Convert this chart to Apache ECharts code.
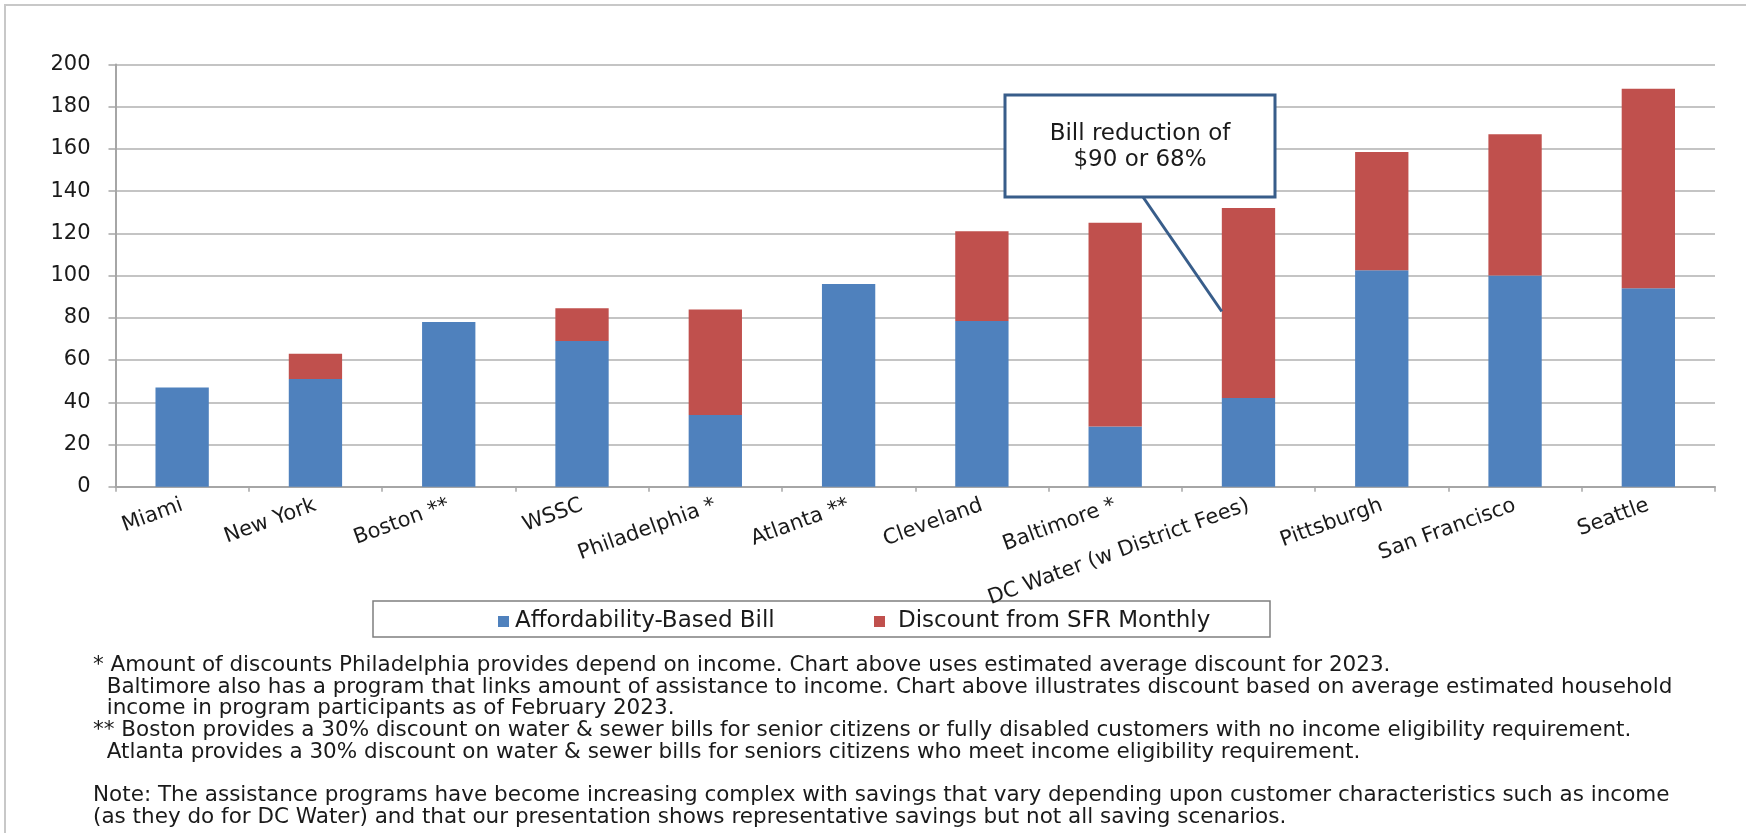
<!DOCTYPE html>
<html>
<head>
<meta charset="utf-8">
<script src="https://cdn.jsdelivr.net/npm/echarts@6/dist/echarts.min.js"></script>
<style>
  html, body { margin: 0; padding: 0; background: #ffffff; }
  #chart { width: 1746px; height: 833px; }
</style>
</head>
<body>
<div id="chart"></div>
<script>
// ---- data ----
const categories = ['Miami', 'New York', 'Boston **', 'WSSC', 'Philadelphia *', 'Atlanta **', 'Cleveland', 'Baltimore *', 'DC Water (w District Fees)', 'Pittsburgh', 'San Francisco', 'Seattle'];
const affordabilityBill = [47, 51, 78, 69, 34, 96, 78.5, 28.5, 42, 102.5, 100, 94];
const sfrDiscount = [0, 12, 0, 15.5, 50, 0, 42.5, 96.5, 90, 56, 67, 94.5];
const seriesNames = ['Affordability-Based Bill', 'Discount from SFR Monthly'];
const yTicks = { min: 0, max: 200, interval: 20 };
const calloutLines = ['Bill reduction of', '$90 or 68%'];
const calloutCategory = 'DC Water (w District Fees)';
const calloutValue = 83;
const footnotes = [
  '* Amount of discounts Philadelphia provides depend on income. Chart above uses estimated average discount for 2023.',
  '  Baltimore also has a program that links amount of assistance to income. Chart above illustrates discount based on average estimated household',
  '  income in program participants as of February 2023.',
  '** Boston provides a 30% discount on water & sewer bills for senior citizens or fully disabled customers with no income eligibility requirement.',
  '  Atlanta provides a 30% discount on water & sewer bills for seniors citizens who meet income eligibility requirement.',
  '',
  'Note: The assistance programs have become increasing complex with savings that vary depending upon customer characteristics such as income',
  '(as they do for DC Water) and that our presentation shows representative savings but not all saving scenarios.'
];

// ---- chart ----
const FONT = 'DejaVu Sans';
const chart = echarts.init(document.getElementById('chart'), null, { renderer: 'canvas' });

const footY = [665, 687, 708.5, 730.5, 752.5, 774, 795.5, 817.5];
const footGraphics = footnotes.map((t, i) => ({
  type: 'text',
  x: 93,
  y: footY[i],
  silent: true,
  style: { text: t, fill: '#1a1a1a', font: '21.5px "DejaVu Sans"', verticalAlign: 'middle' }
}));

const option = {
  backgroundColor: '#ffffff',
  animation: false,
  grid: { left: 115.5, right: 31, top: 64.5, bottom: 346.3 },
  legend: [
    {
      data: [seriesNames[0]], left: 498, top: 610, padding: 0,
      itemWidth: 11, itemHeight: 11, icon: 'rect',
      textStyle: { fontFamily: FONT, fontSize: 23, color: '#1a1a1a', padding: [0, 0, 0, 1] }
    },
    {
      data: [seriesNames[1]], left: 874, top: 610, padding: 0,
      itemWidth: 11, itemHeight: 11, icon: 'rect',
      textStyle: { fontFamily: FONT, fontSize: 23, color: '#1a1a1a', padding: [0, 0, 0, 8] }
    }
  ],
  xAxis: {
    type: 'category',
    data: categories,
    boundaryGap: true,
    axisLine: { lineStyle: { color: '#a6a6a6', width: 2 } },
    axisTick: { show: true, alignWithLabel: false, length: 5, lineStyle: { color: '#a6a6a6', width: 1.5 } },
    axisLabel: {
      interval: 0, rotate: 20, margin: 18,
      fontFamily: FONT, fontSize: 21, color: '#1a1a1a'
    }
  },
  yAxis: {
    type: 'value',
    min: yTicks.min, max: yTicks.max, interval: yTicks.interval,
    axisLine: { show: true, lineStyle: { color: '#a6a6a6', width: 2 } },
    axisTick: { show: true, length: 7, lineStyle: { color: '#a6a6a6', width: 1.5 } },
    splitLine: { show: true, lineStyle: { color: '#c4c4c4', width: 2 } },
    axisLabel: { margin: 25, fontFamily: FONT, fontSize: 21, color: '#1a1a1a' }
  },
  series: [
    {
      name: seriesNames[0], type: 'bar', stack: 'total', barWidth: '40%',
      itemStyle: { color: '#4f81bd' }, data: affordabilityBill
    },
    {
      name: seriesNames[1], type: 'bar', stack: 'total', barWidth: '40%',
      itemStyle: { color: '#c0504d' }, data: sfrDiscount
    }
  ],
  graphic: []
};
chart.setOption(option);

// annotation anchored to the DC Water bar
const anchor = chart.convertToPixel({ seriesIndex: 1 }, [calloutCategory, calloutValue]);
const bandW = chart.convertToPixel({ xAxisIndex: 0 }, categories[1]) - chart.convertToPixel({ xAxisIndex: 0 }, categories[0]);
const tipX = anchor[0] - bandW * 0.2;
const tipY = anchor[1];
const box = { x: 1005, y: 95, w: 270, h: 102 };

chart.setOption({
  graphic: [
    {
      type: 'rect', silent: true, z: 0,
      shape: { x: 5, y: 5, width: 1800, height: 900 },
      style: { fill: 'none', stroke: '#c8c8c8', lineWidth: 2 }
    },
    {
      type: 'rect', silent: true, z: 0,
      shape: { x: 373, y: 601, width: 897, height: 36 },
      style: { fill: 'none', stroke: '#7f7f7f', lineWidth: 1.5 }
    },
    {
      type: 'line', silent: true, z: 100,
      shape: { x1: 1143, y1: box.y + box.h, x2: tipX, y2: tipY },
      style: { stroke: '#385d8a', lineWidth: 3 }
    },
    {
      type: 'rect', silent: true, z: 101,
      shape: { x: box.x, y: box.y, width: box.w, height: box.h },
      style: { fill: '#ffffff', stroke: '#385d8a', lineWidth: 3 }
    },
    {
      type: 'text', silent: true, z: 102,
      x: box.x + box.w / 2, y: 134,
      style: { text: calloutLines[0], fill: '#1a1a1a', font: '23px "DejaVu Sans"', align: 'center', verticalAlign: 'middle' }
    },
    {
      type: 'text', silent: true, z: 102,
      x: box.x + box.w / 2, y: 160,
      style: { text: calloutLines[1], fill: '#1a1a1a', font: '23px "DejaVu Sans"', align: 'center', verticalAlign: 'middle' }
    }
  ].concat(footGraphics)
});
</script>
</body>
</html>
